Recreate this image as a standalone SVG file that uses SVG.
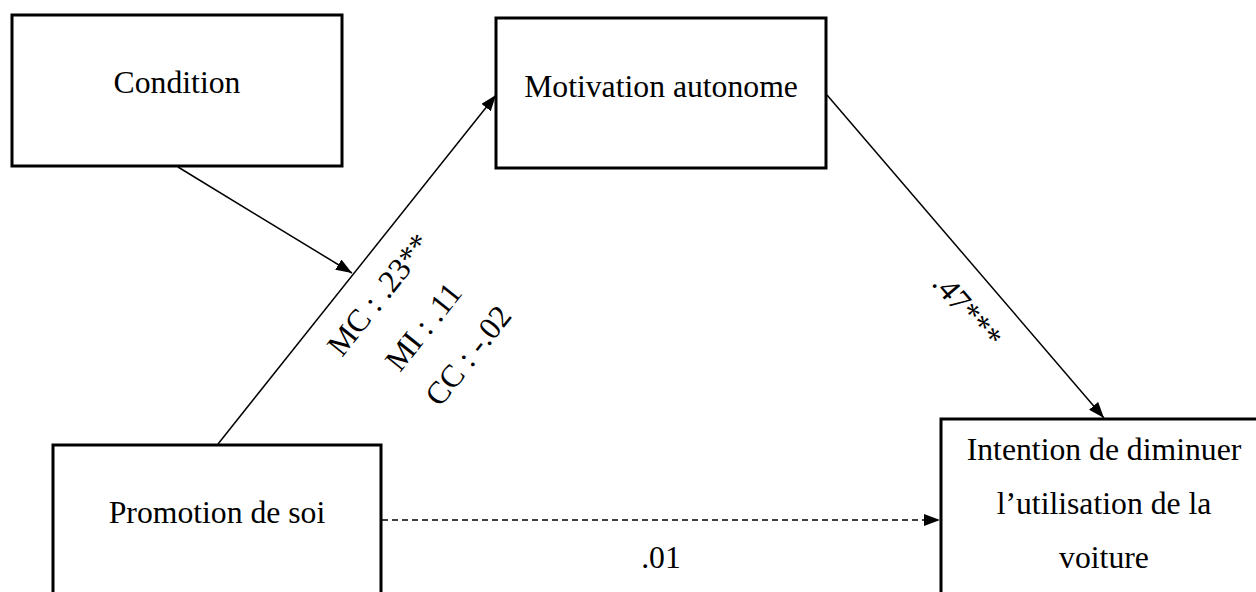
<svg xmlns="http://www.w3.org/2000/svg" width="1256" height="592" viewBox="0 0 1256 592">
<style>
.box{fill:#fff;stroke:#000;stroke-width:3}
.t{font-family:"Liberation Serif","Times New Roman",serif;font-size:31.7px;fill:#000}
.c{text-anchor:middle}
.ln{stroke:#000;stroke-width:1.5;fill:none}
.dash{stroke-dasharray:6 4}
</style>
<defs>
<marker id="ah" viewBox="0 0 16 12" refX="16" refY="6" markerWidth="16" markerHeight="12" markerUnits="userSpaceOnUse" orient="auto">
<path d="M0,0 L16,6 L0,12 z" fill="#000"/>
</marker>
</defs>
<rect width="1256" height="592" fill="#fff"/>
<g id="connectors">
<line class="ln" x1="178" y1="167" x2="352" y2="273" marker-end="url(#ah)"/>
<line class="ln" x1="218" y1="444" x2="496" y2="95" marker-end="url(#ah)"/>
<line class="ln" x1="827" y1="95" x2="1104" y2="418" marker-end="url(#ah)"/>
<line class="ln dash" x1="382" y1="520" x2="940" y2="520" marker-end="url(#ah)"/>
<text class="t" transform="translate(342,358) rotate(-51.5)">MC : .23**</text>
<text class="t" transform="translate(400,373) rotate(-51.5)">MI : .11</text>
<text class="t" transform="translate(440,408) rotate(-51.5)">CC : -.02</text>
<text class="t" transform="translate(931,284) rotate(49.4)">.47***</text>
<text class="t c" x="661" y="568">.01</text>
</g>
<g id="condition">
<rect class="box" x="12" y="15" width="330" height="151"/>
<text class="t c" x="177" y="93">Condition</text>
</g>
<g id="motivation">
<rect class="box" x="496" y="18" width="330" height="150"/>
<text class="t c" x="661" y="97">Motivation autonome</text>
</g>
<g id="promotion">
<rect class="box" x="53" y="445" width="328" height="160"/>
<text class="t c" x="217" y="523">Promotion de soi</text>
</g>
<g id="intention">
<rect class="box" x="941" y="419" width="326" height="190"/>
<text class="t c" x="1104" y="460">Intention de diminuer</text>
<text class="t c" x="1104" y="514">l’utilisation de la</text>
<text class="t c" x="1104" y="568">voiture</text>
</g>
</svg>
